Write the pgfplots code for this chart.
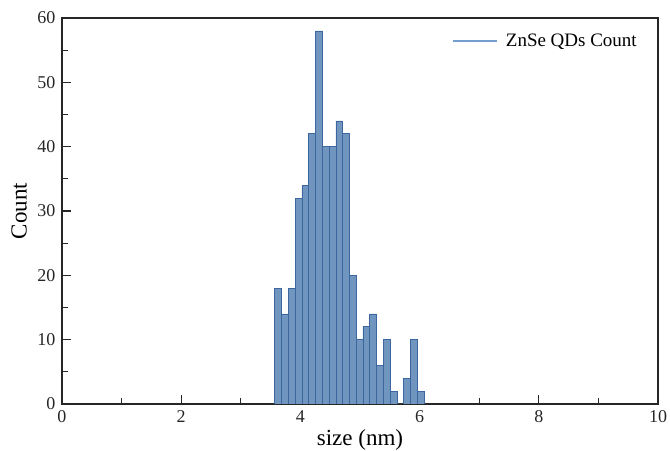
\documentclass[border=0pt]{standalone}
\usepackage{pgfplots}
\pgfplotsset{compat=1.18}
\usepackage{fontspec}
\setmainfont{Liberation Serif}

\definecolor{barfill}{RGB}{112,150,192}
\definecolor{baredge}{RGB}{60,102,160}
\definecolor{legline}{RGB}{115,158,208}

\begin{document}
\begin{tikzpicture}
\begin{axis}[
    scale only axis,
    width=596pt,
    height=386pt,
    xmin=0, xmax=10,
    ymin=0, ymax=60,
    xtick={0,2,...,10},
    minor xtick={1,3,...,9},
    ytick={0,10,...,60},
    minor ytick={5,15,...,55},
    xtick pos=bottom,
    ytick pos=left,
    tick align=inside,
    major tick length=9pt,
    minor tick length=6pt,
    tick style={black!85, line width=1.3pt},
    axis line style={black!85, line width=1.4pt},
    xlabel={size (nm)},
    ylabel={Count},
    label style={font=\fontsize{23}{25}\selectfont},
    tick label style={font=\fontsize{18}{20}\selectfont, black!85},
    /pgf/number format/assume math mode=true,
    yticklabel style={xshift=-3pt},
    xticklabel style={yshift=-3pt},
    xlabel style={at={(axis description cs:0.5,0)}, anchor=center, yshift=-36pt},
    ylabel style={at={(axis description cs:0,0.5)}, anchor=center, yshift=43pt},
    legend style={at={(axis description cs:1,0.9404)}, anchor=east, xshift=-19pt,
        draw=none, fill=none, inner sep=0pt,
        font=\fontsize{19}{21}\selectfont},
    legend image code/.code={\draw[#1] (0pt,0pt) -- (44pt,0pt); \path (50pt,0pt);},
]
% histogram, bin edges from 3.570 nm, width ~0.1138 nm
\addplot[ybar interval, fill=barfill, draw=baredge, line width=0.6pt, forget plot] coordinates {
    (3.570,18) (3.684,14) (3.798,18) (3.911,32) (4.025,34) (4.139,42)
    (4.253,58) (4.367,40) (4.480,40) (4.594,44) (4.708,42) (4.822,20)
    (4.936,10) (5.049,12) (5.163,14) (5.277,6) (5.391,10) (5.505,2)
    (5.618,0) (5.732,4) (5.846,10) (5.960,2) (6.074,0)
};
\addlegendimage{draw=legline, line width=1.4pt}
\addlegendentry{ZnSe QDs Count}
\end{axis}
\pgfresetboundingbox
\path (current axis.south west) +(-62pt,-47pt)
      (current axis.north east) +(12pt,18pt);
\end{tikzpicture}
\end{document}
